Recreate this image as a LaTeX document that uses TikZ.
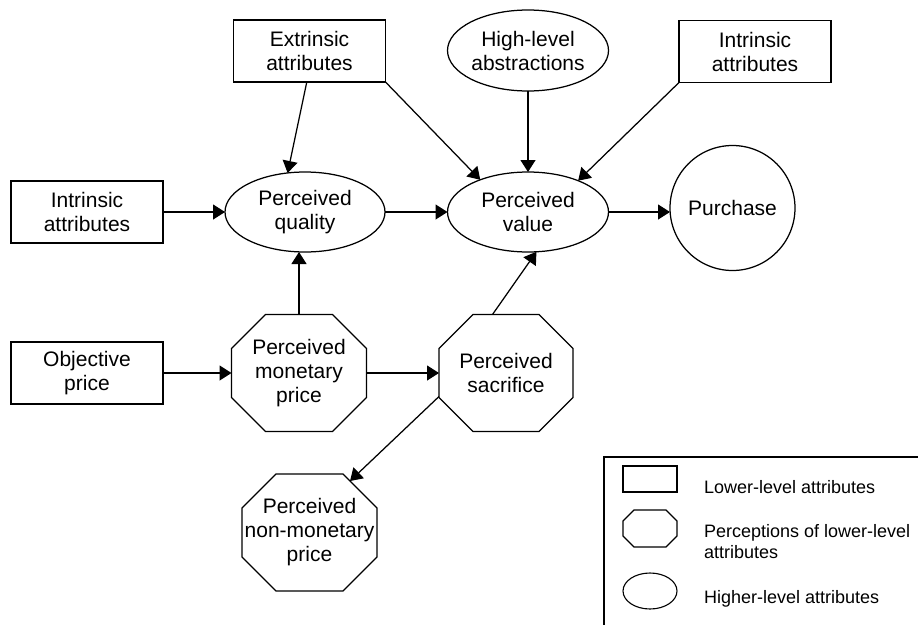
\documentclass[tikz,border=0pt]{standalone}
\usepackage{fontspec}
\setmainfont{Liberation Sans}
\usetikzlibrary{arrows.meta,calc,shapes.geometric}

% Octagon drawn over a rectangular node: #1 node name, #2 corner cut
\newcommand\drawoctagon[2]{%
  \draw[octline]
    ($(#1.north west)+(#2,0)$) -- ($(#1.north east)+(-#2,0)$) --
    ($(#1.north east)+(0,#2)$) -- ($(#1.south east)+(0,-#2)$) --
    ($(#1.south east)+(-#2,0)$) -- ($(#1.south west)+(#2,0)$) --
    ($(#1.south west)+(0,-#2)$) -- ($(#1.north west)+(0,#2)$) -- cycle;}

\begin{document}
\begin{tikzpicture}[x=1pt,y=-1pt,
  every node/.style={inner sep=0pt, outer sep=0pt, align=center,
    font=\fontsize{21}{24}\selectfont},
  lowbox/.style={draw, rectangle, line width=1.25pt,
    minimum width=152pt, minimum height=62pt},
  highell/.style={draw, ellipse, line width=1.25pt,
    minimum width=160pt, minimum height=80pt},
  perc/.style={rectangle, minimum width=135pt, minimum height=117pt},
  octline/.style={line width=1.25pt, line join=miter},
  arr/.style={line width=1.25pt, -{Triangle[length=12pt,width=15pt]}},
  legtext/.style={align=left, font=\fontsize{18}{21}\selectfont},
]
\useasboundingbox (0,0) rectangle (918,624);

% top row
\node[lowbox] (ext) at (309.5,51) {Extrinsic\\attributes};
\node[highell, minimum width=161pt, minimum height=81pt] (hl) at (528,50.5)
  {High-level\\abstractions};
\node[lowbox] (ir) at (755,51.5) {Intrinsic\\attributes};

% middle row
\node[lowbox] (il) at (87,212) {Intrinsic\\attributes};
\node[highell] (pq) at (305,212) {Perceived\\quality};
\node[highell, minimum width=161pt] (pv) at (528,212) {Perceived\\value};
\node[draw, circle, line width=1.25pt, minimum size=125pt] (pur) at (732.5,208)
  {Purchase};

% lower rows
\node[lowbox] (obj) at (87,373) {Objective\\price};
\node[perc] (pmp) at (299,373) {Perceived\\monetary\\price};
\node[perc, minimum width=134pt] (sac) at (506,373) {Perceived\\sacrifice};
\node[perc] (npm) at (309.5,532.5) {Perceived\\non-monetary\\price};

\drawoctagon{pmp}{34}
\drawoctagon{sac}{34}
\drawoctagon{npm}{34}

\coordinate (sacwl) at ($(sac.south west)+(0,-35)$);
\coordinate (npmin) at ($(npm.north east)+(-27,7)$);

% connectors
\draw[arr] (il) -- (pq);
\draw[arr] (pq) -- (pv);
\draw[arr] (pv.east) -- (pv.east -| pur.west);
\draw[arr] (obj) -- (pmp);
\draw[arr] (pmp) -- (sac);
\draw[arr] (pmp.north) -- (pmp.north |- pq.south);
\draw[arr] (ext.265) -- (pq.114);
\draw[arr] (ext.south east) -- (pv.146);
\draw[arr] (hl) -- (pv);
\draw[arr] (ir.south west) -- (pv.32);
\draw[arr] (sac.103.5) -- (pv.282);
\draw[arr] (sacwl) -- (npmin);

% legend
\begin{scope}
  \clip (0,0) rectangle (918,624);
  \draw[line width=1.25pt] (604,457) rectangle (940,660);
\end{scope}
\node[draw, rectangle, line width=1.1pt, minimum width=54pt, minimum height=26pt]
  (legrect) at (650,479) {};
\node[rectangle, minimum width=54pt, minimum height=37pt] (legoct) at (650,528.5) {};
\drawoctagon{legoct}{11}
\node[draw, ellipse, line width=1.1pt, minimum width=54pt, minimum height=36pt]
  (legell) at (650,591) {};
\node[legtext, anchor=base west] (leg1) at (704,493) {Lower-level attributes};
\node[legtext, anchor=west] (leg2) at (704,542) {Perceptions of lower-level\\attributes};
\node[legtext, anchor=base west] (leg3) at (704,603) {Higher-level attributes};
\end{tikzpicture}
\end{document}
